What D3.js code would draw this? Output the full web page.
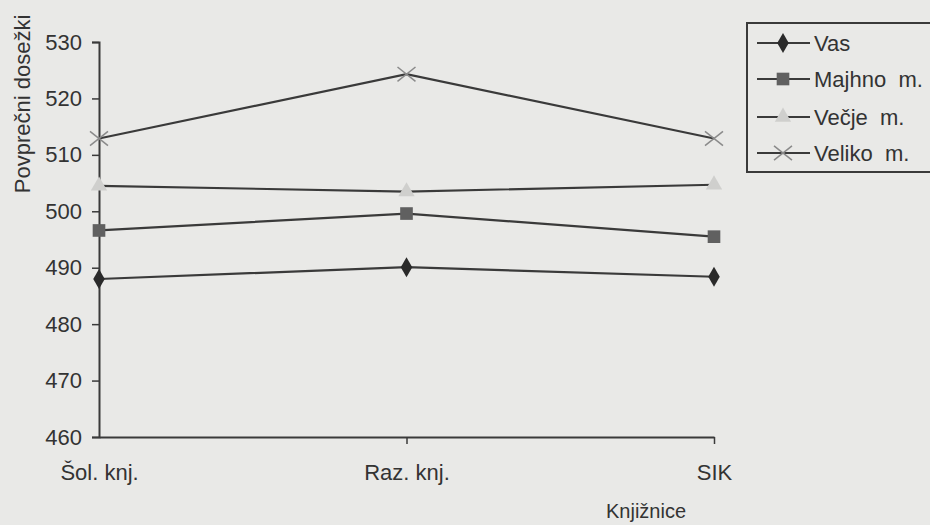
<!DOCTYPE html>
<html>
<head>
<meta charset="utf-8">
<script src="https://cdn.jsdelivr.net/npm/d3@7"></script>
<style>
  html, body { margin: 0; padding: 0; background: #e9e9e7; }
  svg { display: block; }
  svg text { font-family: "Liberation Sans", Arial, sans-serif; }
</style>
</head>
<body>
<svg id="chart" width="930" height="525"></svg>
<script>
// Average scores by library type and settlement size
const categories = ["Šol. knj.", "Raz. knj.", "SIK"];
const seriesNames = ["Vas", "Majhno  m.", "Večje  m.", "Veliko  m."];
const vas    = [488.0, 490.1, 488.4];
const majhno = [496.6, 499.6, 495.5];
const vecje  = [504.5, 503.5, 504.7];
const veliko = [512.9, 524.3, 512.9];
const yTicks = [460, 470, 480, 490, 500, 510, 520, 530];
const yTitle = "Povprečni dosežki";
const xTitle = "Knjižnice";

const series = [
  { name: seriesNames[0], values: vas,    symbol: d3.symbolDiamond,  fill: "#2a2a2a", size: 115 },
  { name: seriesNames[1], values: majhno, symbol: d3.symbolSquare,   fill: "#606060", size: 160 },
  { name: seriesNames[2], values: vecje,  symbol: d3.symbolTriangle, fill: "#cfcfcd", size: 115 },
  { name: seriesNames[3], values: veliko, symbol: d3.symbolCross,    fill: "none",    size: 0 }
];

const svg = d3.select("#chart");
const ink = "#3a3a3a";
const textInk = "#333";
const fs = "22px";

const x = d3.scalePoint().domain(categories).range([99, 714]);
const y = d3.scaleLinear().domain([460, 530]).range([437, 42]);

// Y axis
const yAxis = svg.append("g")
  .attr("transform", "translate(99,0)")
  .call(d3.axisLeft(y).tickValues(yTicks).tickSize(7).tickPadding(10));
yAxis.attr("font-family", null).attr("font-size", null);
yAxis.select(".domain").attr("stroke", ink).attr("stroke-width", 2);
yAxis.selectAll(".tick line").attr("stroke", ink).attr("stroke-width", 1.5);
yAxis.selectAll("text").attr("fill", textInk).style("font-size", fs);

// X axis
const xAxis = svg.append("g")
  .attr("transform", "translate(0,437)")
  .call(d3.axisBottom(x).tickSize(7).tickSizeOuter(0));
xAxis.attr("font-family", null).attr("font-size", null);
xAxis.select(".domain").attr("stroke", ink).attr("stroke-width", 2);
xAxis.selectAll(".tick line").attr("stroke", ink).attr("stroke-width", 1.5);
xAxis.selectAll(".tick").filter((d, i) => i === 0).select("line").remove();
xAxis.selectAll("text").attr("fill", textInk).style("font-size", fs)
  .style("white-space", "pre")
  .attr("y", 27).attr("dy", "0.71em");

// Axis titles
svg.append("text")
  .attr("transform", "translate(30,104) rotate(-90)")
  .attr("text-anchor", "middle")
  .attr("fill", textInk)
  .style("font-size", fs)
  .text(yTitle);

svg.append("text")
  .attr("x", 646).attr("y", 518)
  .attr("text-anchor", "middle")
  .attr("fill", textInk)
  .style("font-size", "20px")
  .text(xTitle);

// Lines and markers
const line = d3.line().x((d, i) => x(categories[i])).y(d => y(d));

function drawMarker(g, s, cx, cy) {
  if (s.symbol === d3.symbolCross) {
    // thin x marker
    const r = 9;
    const m = g.append("g").attr("transform", `translate(${cx},${cy})`)
      .attr("stroke", "#8a8a8a").attr("stroke-width", 1.5);
    m.append("line").attr("x1", -r).attr("y1", -r * 0.8).attr("x2", r).attr("y2", r * 0.8);
    m.append("line").attr("x1", -r).attr("y1", r * 0.8).attr("x2", r).attr("y2", -r * 0.8);
  } else {
    g.append("path")
      .attr("transform", `translate(${cx},${cy})`)
      .attr("d", d3.symbol().type(s.symbol).size(s.size)())
      .attr("fill", s.fill);
  }
}

series.forEach(s => {
  const g = svg.append("g");
  g.append("path")
    .datum(s.values)
    .attr("d", line)
    .attr("fill", "none")
    .attr("stroke", ink)
    .attr("stroke-width", 2.2);
  s.values.forEach((v, i) => drawMarker(g, s, x(categories[i]), y(v)));
});

// Legend
const legend = svg.append("g");
legend.append("rect")
  .attr("x", 747).attr("y", 23)
  .attr("width", 200).attr("height", 149)
  .attr("fill", "none")
  .attr("stroke", ink)
  .attr("stroke-width", 2);

const legendY = [43, 79, 117, 153];
series.forEach((s, i) => {
  const ly = legendY[i];
  legend.append("line")
    .attr("x1", 757).attr("x2", 810)
    .attr("y1", ly).attr("y2", ly)
    .attr("stroke", ink).attr("stroke-width", 2);
  drawMarker(legend, s, 783, ly);
  legend.append("text")
    .attr("x", 814).attr("y", ly + 8)
    .attr("fill", textInk)
    .style("font-size", fs)
    .style("white-space", "pre")
    .text(s.name);
});
</script>
</body>
</html>
